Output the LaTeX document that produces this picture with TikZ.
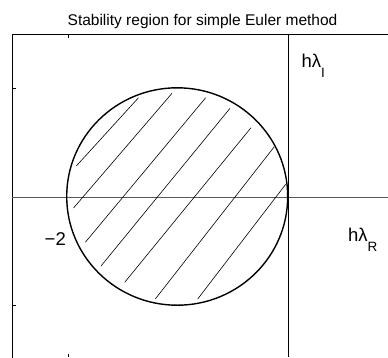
\documentclass[tikz,border=0pt]{standalone}
\usepackage{fontspec}
\setmainfont{Liberation Sans}
\newcommand{\subsc}[1]{\raisebox{-10pt}{\fontsize{13.5}{14}\selectfont #1}}
\tikzset{
  frame/.style={line width=0.8pt, black},
  axisline/.style={line width=1pt, black!65},
  vaxis/.style={line width=0.9pt, black},
  ticks/.style={line width=0.7pt, black},
  rim/.style={line width=1.4pt, black},
  hatch/.style={line width=0.6pt, black},
  lbl/.style={inner sep=0pt, font=\fontsize{18.5}{20}\selectfont},
}
\begin{document}
\begin{tikzpicture}[x=1pt, y=-1pt]
\useasboundingbox (0,0) rectangle (388,357);
\begin{scope}
\clip (0,0) rectangle (388,357);
% frame (cropped on right and bottom)
\draw[frame] (12,400) -- (12,34) -- (400,34);
% axes
\draw[axisline] (12,197) -- (388,197);
\draw[vaxis] (288,34) -- (288,357);
% ticks
\draw[ticks] (12,88) -- (15.5,88);
\draw[ticks] (12,305) -- (15.5,305);
\draw[ticks] (68,34) -- (68,37.5);
\draw[ticks] (68,357) -- (68,353.5);
\draw[ticks] (288,357) -- (288,353.5);
% hatching
\draw[hatch] (76.3,166) -- (138.5,97.7);
\draw[hatch] (73.5,208) -- (172,93.3);
\draw[hatch] (85.3,242.3) -- (205.7,97.7);
\draw[hatch] (101,266) -- (230,108.3);
\draw[hatch] (124.7,282.3) -- (251,127.7);
\draw[hatch] (155.3,299) -- (274.3,146.7);
\draw[hatch] (197.7,299) -- (285.7,184.3);
% stability region boundary
\coordinate (ctr) at (177.2,196.5);
\draw[rim] (ctr) ellipse [x radius=110.5, y radius=108.7];
\end{scope}
% texts
\node[inner sep=0pt, anchor=base, font=\fontsize{15.5}{17}\selectfont] (title) at (202.5,25) {Stability region for simple Euler method};
\node[lbl, anchor=base west] (lblI) at (301.5,67.5) {hλ\subsc{I}};
\node[lbl, anchor=base west] (lblR) at (348,241.7) {hλ\subsc{R}};
\node[lbl, anchor=base east] (lblm) at (66,245.5) {−2};
\end{tikzpicture}
\end{document}
